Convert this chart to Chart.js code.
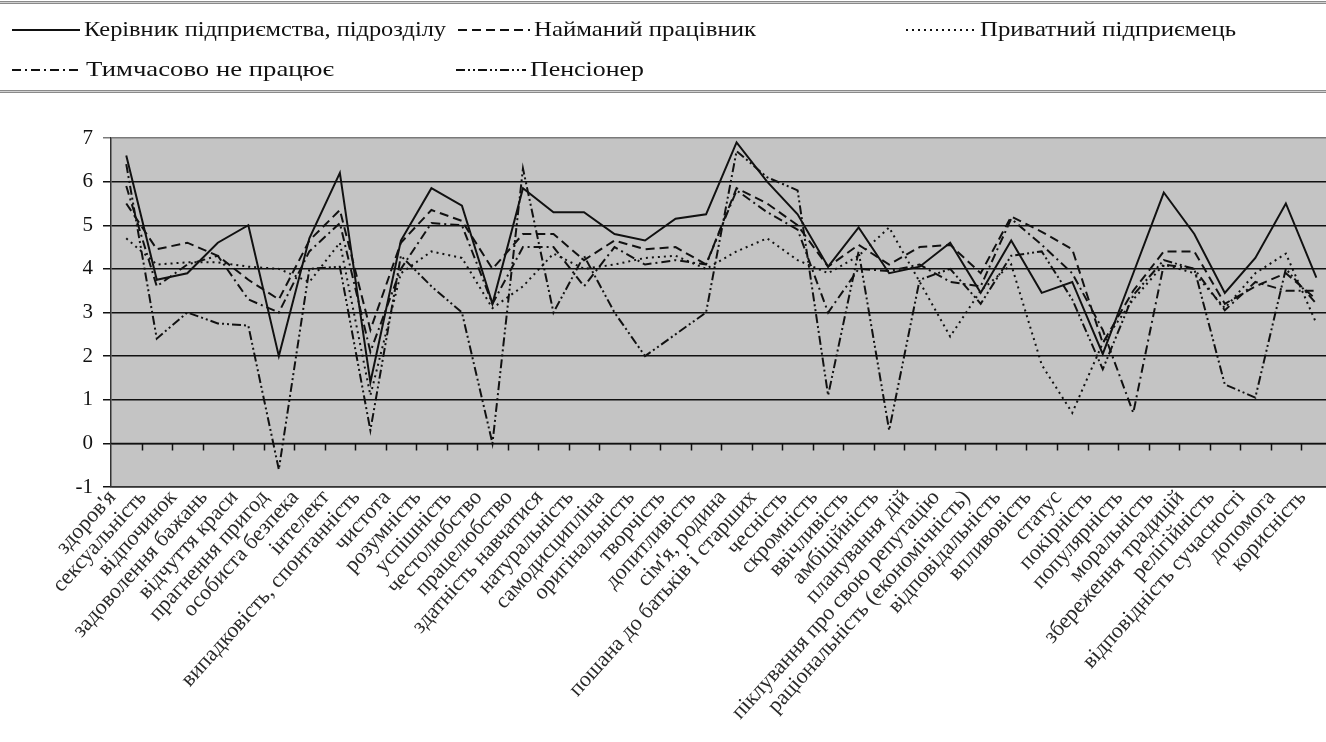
<!DOCTYPE html>
<html>
<head>
<meta charset="utf-8">
<script src="https://cdn.jsdelivr.net/npm/chart.js@4/dist/chart.umd.min.js"></script>
<style>
  html, body { margin: 0; padding: 0; background: #fff; overflow: hidden; }
  #wrap { width: 1326px; height: 742px; overflow: hidden; position: relative; }
  #box { width: 1334px; height: 742px; position: absolute; left: 0; top: 0; }
</style>
</head>
<body>
<div id="wrap"><div id="box"><canvas id="chart"></canvas></div></div>
<script>
const categories = [
  "здоров'я", 'сексуальність', 'відпочинок', 'задоволення бажань', 'відчуття краси',
  'прагнення пригод', 'особиста безпека', 'інтелект', 'випадковість, спонтанність', 'чистота',
  'розумність', 'успішність', 'честолюбство', 'працелюбство', 'здатність навчатися',
  'натуральність', 'самодисципліна', 'оригінальність', 'творчість', 'допитливість',
  "сім'я, родина", 'пошана до батьків і старших', 'чесність', 'скромність', 'ввічливість',
  'амбіційність', 'планування дій', 'піклування про свою репутацію', 'раціональність (економічність)', 'відповідальність',
  'впливовість', 'статус', 'покірність', 'популярність', 'моральність',
  'збереження традицій', 'релігійність', 'відповідність сучасності', 'допомога', 'корисність'
];

const seriesNames = [
  'Керівник підприємства, підрозділу',
  'Найманий працівник',
  'Приватний підприємець',
  'Тимчасово не працює',
  'Пенсіонер'
];

const kerivnyk = [6.6, 3.75, 3.9, 4.6, 5.0, 2.0, 4.7, 6.2, 1.4, 4.65, 5.85, 5.45, 3.2, 5.85, 5.3, 5.3, 4.8, 4.65, 5.15, 5.25,
  6.9, 6.0, 5.25, 4.05, 4.95, 3.9, 4.05, 4.6, 3.45, 4.65, 3.45, 3.7, 2.05, 3.9, 5.75, 4.8, 3.45, 4.25, 5.5, 3.8];
const naimanyi = [5.5, 4.45, 4.6, 4.3, 3.75, 3.3, 4.65, 5.35, 2.6, 4.6, 5.35, 5.1, 4.0, 4.8, 4.8, 4.2, 4.65, 4.45, 4.5, 4.1,
  5.85, 5.5, 5.0, 4.05, 4.55, 4.1, 4.5, 4.55, 3.9, 5.2, 4.85, 4.45, 2.3, 3.5, 4.4, 4.4, 3.2, 3.6, 3.9, 3.3];
const pryvatnyi = [4.7, 4.1, 4.15, 4.15, 4.05, 4.0, 3.7, 4.6, 1.1, 3.9, 4.4, 4.25, 3.1, 3.6, 4.35, 4.0, 4.1, 4.25, 4.3, 4.0,
  4.4, 4.7, 4.2, 3.9, 4.3, 4.95, 3.7, 2.45, 3.5, 4.1, 1.8, 0.7, 2.3, 3.3, 4.1, 3.9, 3.1, 3.9, 4.35, 2.75];
const tymchasovo = [5.9, 3.6, 4.1, 4.3, 3.3, 3.0, 4.4, 5.05, 2.1, 4.0, 5.05, 5.0, 3.2, 4.5, 4.5, 3.6, 4.5, 4.1, 4.2, 4.1,
  5.8, 5.3, 4.9, 3.0, 4.0, 3.95, 4.1, 3.7, 3.6, 5.15, 4.55, 3.9, 2.6, 0.7, 4.1, 4.0, 3.05, 3.7, 3.5, 3.5];
const pensioner = [6.4, 2.4, 3.0, 2.75, 2.7, -0.6, 4.0, 4.05, 0.3, 4.3, 3.6, 3.0, 0.0, 6.3, 3.0, 4.3, 3.0, 2.0, 2.5, 3.0,
  6.7, 6.1, 5.8, 1.1, 4.4, 0.3, 3.75, 4.0, 3.2, 4.3, 4.4, 3.3, 1.7, 3.4, 4.2, 4.0, 1.35, 1.05, 4.0, 3.2];

const yMin = -1;
const yMax = 7;

const SERIF = '"Liberation Serif", "Times New Roman", serif';
const INK = '#111';

// legend placement: [dataset index, sample x, row y, sample width, text width]
const legendSlots = [
  [0, 12, 30, 68, 362],
  [1, 458, 30, 72, 222],
  [2, 906, 30, 70, 256],
  [3, 12, 70, 70, 248],
  [4, 456, 70, 70, 114]
];

const frame = {
  id: 'frame',
  beforeDraw(chart) {
    const { ctx, chartArea: a } = chart;
    ctx.save();
    ctx.fillStyle = '#c4c4c4';
    ctx.fillRect(a.left, a.top, a.right - a.left, a.bottom - a.top);
    ctx.restore();
  },
  afterDraw(chart) {
    const { ctx, chartArea: a } = chart;
    const xs = chart.scales.x;
    const ys = chart.scales.y;
    const y0 = ys.getPixelForValue(0);
    const half = (xs.getPixelForValue(1) - xs.getPixelForValue(0)) / 2;
    ctx.save();
    // axis at zero with category boundary ticks
    ctx.strokeStyle = INK;
    ctx.lineWidth = 1.5;
    ctx.beginPath();
    ctx.moveTo(a.left, y0);
    ctx.lineTo(a.right, y0);
    for (let i = 1; i < categories.length; i++) {
      const x = Math.round(xs.getPixelForValue(i) - half) + 0.5;
      ctx.moveTo(x, y0);
      ctx.lineTo(x, y0 + 7);
    }
    ctx.stroke();

    // legend box lines
    ctx.fillStyle = '#8a8a8a';
    ctx.fillRect(0, 1, chart.width, 3);
    ctx.fillRect(0, 90, chart.width, 3);
    ctx.fillStyle = '#d0d0d0';
    ctx.fillRect(0, 2, chart.width, 1);
    ctx.fillRect(0, 91, chart.width, 1);

    // legend entries
    ctx.font = '22px ' + SERIF;
    ctx.textBaseline = 'middle';
    ctx.textAlign = 'left';
    legendSlots.forEach(([idx, x, y, w, tw]) => {
      const ds = chart.data.datasets[idx];
      ctx.strokeStyle = INK;
      ctx.lineWidth = 2;
      ctx.setLineDash(ds.borderDash || []);
      ctx.beginPath();
      ctx.moveTo(x, y);
      ctx.lineTo(x + w, y);
      ctx.stroke();
      ctx.setLineDash([]);
      ctx.fillStyle = INK;
      const natural = ctx.measureText(ds.label).width;
      ctx.save();
      ctx.translate(x + w + 4, y);
      ctx.scale(tw / natural, 1);
      ctx.fillText(ds.label, 0, 0);
      ctx.restore();
    });
    ctx.restore();
  }
};

const styles = [
  { data: kerivnyk, dash: [] },
  { data: naimanyi, dash: [9, 5] },
  { data: pryvatnyi, dash: [2, 4] },
  { data: tymchasovo, dash: [9, 4, 2, 4] },
  { data: pensioner, dash: [9, 3, 2, 3, 2, 3] }
];

new Chart(document.getElementById('chart'), {
  type: 'line',
  data: {
    labels: categories,
    datasets: styles.map((s, i) => ({
      label: seriesNames[i],
      data: s.data,
      borderColor: INK,
      borderWidth: 2,
      borderDash: s.dash,
      pointRadius: 0,
      tension: 0,
      fill: false
    }))
  },
  options: {
    responsive: true,
    maintainAspectRatio: false,
    animation: false,
    layout: { padding: { top: 138, right: 1, left: 0, bottom: 0 } },
    plugins: {
      legend: { display: false },
      tooltip: { enabled: false }
    },
    scales: {
      x: {
        offset: true,
        grid: { display: false, drawTicks: false },
        border: { display: true, color: '#333', width: 1.5 },
        ticks: {
          autoSkip: false,
          maxRotation: 48,
          minRotation: 48,
          padding: -2,
          labelOffset: -14,
          color: '#2a2a2a',
          font: { family: SERIF, size: 22 }
        },
        afterFit(s) { s.height = 255; }
      },
      y: {
        min: yMin,
        max: yMax,
        ticks: {
          stepSize: 1,
          padding: 10,
          color: INK,
          font: { family: SERIF, size: 21 }
        },
        grid: {
          color: (c) => (c.tick && c.tick.value === yMax ? '#7a7a7a' : INK),
          lineWidth: 1.5,
          drawTicks: true,
          tickLength: 8
        },
        border: { display: true, color: '#333', width: 1.5 },
        afterFit(s) { s.width = 111; }
      }
    }
  },
  plugins: [frame]
});
</script>
</body>
</html>
